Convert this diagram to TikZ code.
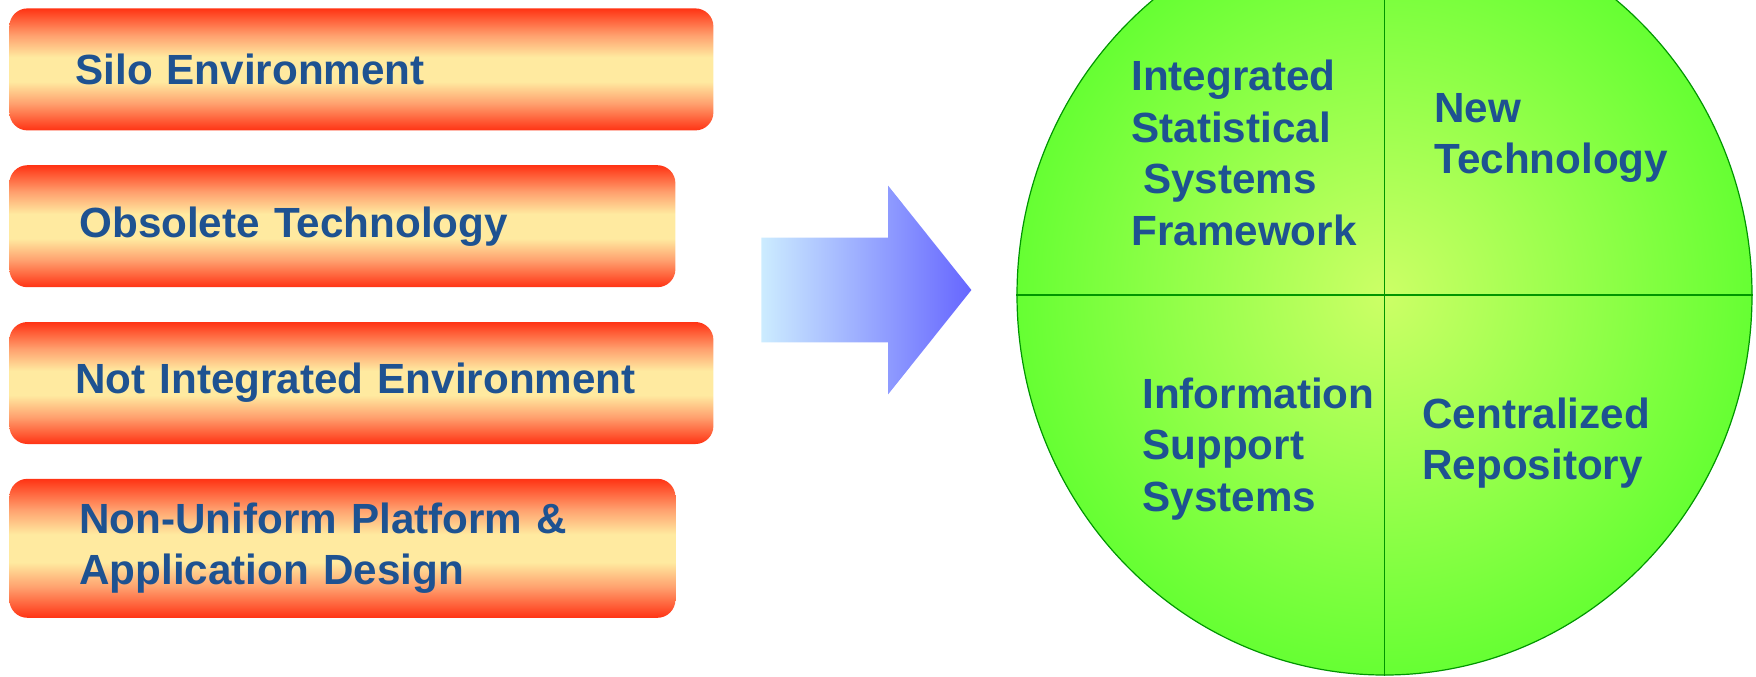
\documentclass[tikz,border=0pt]{standalone}
\usepackage{fontspec}
\setmainfont{Liberation Sans}
\usepackage{xcolor}
\usepackage{tikz}
\usetikzlibrary{shapes,arrows,positioning}
\usetikzlibrary{calc}

\definecolor{boxred}{RGB}{255,51,20}
\definecolor{boxpeach}{RGB}{255,160,110}
\definecolor{boxcream}{RGB}{255,234,160}
\definecolor{inkblue}{RGB}{30,82,145}
\definecolor{arrowcyan}{RGB}{204,236,255}
\definecolor{arrowblue}{RGB}{102,102,255}
\definecolor{ballcore}{RGB}{204,255,102}
\definecolor{ballrim}{RGB}{102,255,51}
\definecolor{ballline}{RGB}{0,150,0}

\pgfdeclareverticalshading{boxglow}{100bp}{color(0bp)=(boxred); color(25bp)=(boxred);
    color(36bp)=(boxpeach); color(45bp)=(boxcream); color(55bp)=(boxcream);
    color(64bp)=(boxpeach); color(75bp)=(boxred); color(100bp)=(boxred)}

\newcommand{\boxfont}{\fontsize{21.1}{25.8}\selectfont\bfseries}

\tikzstyle{block} = [rectangle, shading=boxglow, rounded corners=9pt,
    align=left, minimum height=61pt, text=inkblue, font=\boxfont]
\tikzstyle{longbox} = [text width=286pt, inner xsep=33pt]
\tikzstyle{shortbox} = [text width=263pt, inner xsep=35pt]
\tikzstyle{quad} = [inner sep=0pt, align=left, anchor=west, text=inkblue, font=\boxfont]

\begin{document}
\begin{tikzpicture}[x=1pt, y=1pt, node distance=17pt]
        \useasboundingbox (0,0) rectangle (878,-338);
        \clip (0,0) rectangle (878,-338);

        % Problems
        \node [block, longbox, anchor=north west] (silo) at (4.5,-4) {Silo Environment};
        \node [block, shortbox, below=of silo.south west, anchor=north west] (obsolete) {Obsolete Technology};
        \node [block, longbox, below=of obsolete.south west, anchor=north west] (notint) {Not Integrated Environment};
        \node [block, shortbox, below=of notint.south west, anchor=north west,
            minimum height=69.5pt] (platform) {Non-Uniform Platform \&\\Application Design};

        % Block arrow
        \node [single arrow, left color=arrowcyan, right color=arrowblue,
            inner xsep=0pt, inner ysep=26pt, minimum height=105pt,
            single arrow head extend=26pt, single arrow tip angle=102.8,
            anchor=tail] (shift) at (380.5,-145) {};

        % Solution
        \node [ellipse, draw=ballline, line width=0.6pt, inner color=ballcore, outer color=ballrim,
            minimum width=367.5pt, minimum height=380pt, inner sep=0pt] (vision) at (692.25,-147.5) {};
        \draw [ballline, line width=0.9pt] (vision.north) -- (vision.south);
        \draw [ballline, line width=0.9pt] (vision.west) -- (vision.east);

        \node [quad] (isfw) at (565.5,-76.5) {Integrated\\Statistical\\\hspace*{.28em}Systems\\Framework};
        \node [quad] (newtech) at (717,-69) {New\\Technology};
        \node [quad] (iss) at (571,-224.5) {Information\\Support\\Systems};
        \node [quad] (repo) at (711,-221.5) {Centralized\\Repository};
    \end{tikzpicture}
\end{document}
